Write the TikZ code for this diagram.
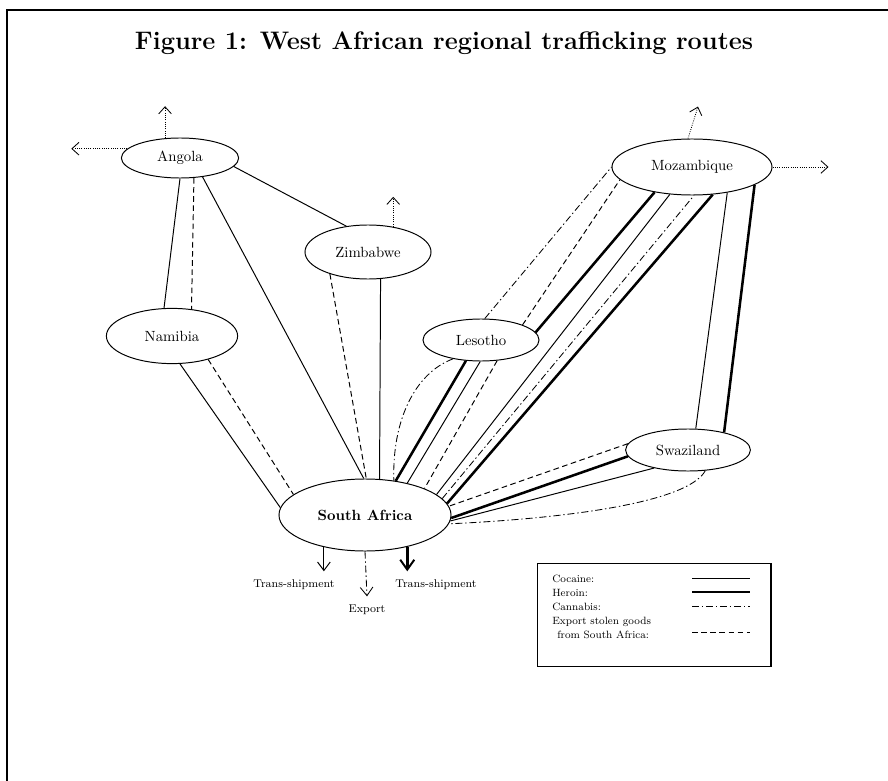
\documentclass[tikz,border=0pt]{standalone}
\usepackage{tikz}
\usetikzlibrary{positioning, shapes.geometric, arrows.meta}

\begin{document}
\begin{tikzpicture}[
        x=0.025cm, y=-0.025cm,
        font=\fontsize{10.5}{12}\selectfont,
        country/.style={
            ellipse, draw=black, line width=0.7pt,
            inner sep=0pt, align=center
        },
        hub/.style={
            ellipse, draw=black, line width=0.7pt,
            inner sep=0pt, font=\fontsize{10.5}{12}\selectfont\bfseries
        },
        cocaine/.style={draw=black, line width=0.7pt},
        heroin/.style={draw=black, line width=1.8pt},
        cannabis/.style={draw=black, line width=0.6pt, dash pattern=on 5pt off 2pt on 1pt off 2pt},
        export/.style={draw=black, line width=0.7pt, dash pattern=on 4pt off 2.5pt},
        outward/.style={draw=black, line width=0.6pt, densely dotted,
            -{Straight Barb[length=5pt, width=9pt]}},
        downtip/.style={-{Straight Barb[length=6pt, width=9pt]}},
        routelabel/.style={inner sep=1pt, font=\fontsize{8}{9}\selectfont},
        legendtxt/.style={anchor=base west, inner sep=0pt, font=\fontsize{7.5}{9}\selectfont}
    ]

    \useasboundingbox (0,0) rectangle (888,781);

    % FRAME AND TITLE
    \draw[line width=1.5pt] (7,781) -- (7,10) -- (888,10);
    \node[font=\fontsize{18}{21}\selectfont\bfseries] (title) at (444,43)
        {Figure 1: West African regional trafficking routes};

    % COUNTRY NODES
    \node[country, minimum width=2.93cm, minimum height=1.0cm]  (ang) at (180,158) {Angola};
    \node[country, minimum width=3.15cm, minimum height=1.35cm] (zim) at (368,252) {Zimbabwe};
    \node[country, minimum width=3.28cm, minimum height=1.38cm] (nam) at (172,336) {Namibia};
    \node[country, minimum width=2.9cm, minimum height=1.05cm]  (les) at (481,340) {Lesotho};
    \node[country, minimum width=4.0cm, minimum height=1.4cm]   (moz) at (692,167) {Mozambique};
    \node[country, minimum width=3.12cm, minimum height=1.05cm] (swa) at (688,450) {Swaziland};
    \node[hub, minimum width=4.3cm, minimum height=1.8cm]       (sa)  at (365,515) {South Africa};

    % ANGOLA
    \draw[cocaine] (ang.-90) -- (nam.106);
    \draw[export]  (ang.-55) -- (nam.54);
    \draw[cocaine] (ang.-40) -- (sa.92);
    \draw[cocaine] (ang.-9)  -- (zim.130);
    \draw[outward] (ang.127) -- ++(0,-32);
    \draw[outward] (ang.170) -- ++(-56,0);

    % ZIMBABWE
    \draw[export]  (zim.210) -- (sa.88);
    \draw[cocaine] (zim.-65) -- (sa.68);
    \draw[outward] (zim.45)  -- ++(0,-30);

    % NAMIBIA
    \draw[cocaine] (nam.-74) -- (sa.175);
    \draw[export]  (nam.-33) -- (sa.164);

    % LESOTHO
    \draw[cannabis] (les.214) .. controls +(-38,14) and +(-2,-60) .. (sa.50);
    \draw[heroin]   (les.234) -- (sa.48);
    \draw[cocaine]  (les.268) -- (sa.37);
    \draw[export]   (les.-52) -- (sa.24);

    % MOZAMBIQUE
    \draw[cannabis] (les.80)  -- (moz.180);
    \draw[export]   (les.20)  -- (moz.190);
    \draw[heroin]   (les.8)   -- (moz.214);
    \draw[cocaine]  (sa.16)   -- (moz.231);
    \draw[cannabis] (sa.12)   -- (moz.274);
    \draw[heroin]   (sa.8)    -- (moz.307);
    \draw[cocaine]  (moz.324) -- (swa.70);
    \draw[heroin]   (moz.344) -- (swa.26);
    \draw[outward]  (moz.98)  -- ++(10,-32);
    \draw[outward]  (moz.east) -- ++(56,0);

    % SWAZILAND
    \draw[export]   (swa.174) -- (sa.6);
    \draw[heroin]   (swa.186) -- (sa.-2);
    \draw[cocaine]  (swa.208) -- (sa.-4);
    \draw[cannabis] (swa.310) .. controls +(-18,33) and +(110,-5) .. (sa.-6);

    % OUT OF SOUTH AFRICA
    \node[routelabel] (ts1) at (294,585) {Trans-shipment};
    \node[routelabel] (exp) at (367,610) {Export};
    \node[routelabel] (ts2) at (436,585) {Trans-shipment};

    \draw[cocaine, downtip]  (sa.218) -- ([yshift=5pt]sa.218 |- ts1.north);
    \draw[cannabis, downtip] (sa.south) -- ([yshift=5pt]exp.north);
    \draw[heroin, -{Straight Barb[length=7pt, width=10pt, line width=1.4pt]}]
        (sa.323) -- ([yshift=5pt]sa.323 |- ts2.north);

    % LEGEND
    \node[draw, line width=0.9pt, anchor=north west, inner sep=0pt,
          minimum width=5.83cm, minimum height=2.575cm] (legend) at (537,563) {};

    \node[legendtxt] (lcoc) at (552,582) {Cocaine:};
    \node[legendtxt] (lher) at (552,596) {Heroin:};
    \node[legendtxt] (lcan) at (552,610) {Cannabis:};
    \node[legendtxt] (lexp) at (552,624) {Export stolen goods};
    \node[legendtxt] (lexq) at (557,638) {from South Africa:};

    \coordinate (kcoc) at (692,578);
    \coordinate (kher) at (692,592);
    \coordinate (kcan) at (692,606);
    \coordinate (kexp) at (692,632);
    \draw[cocaine]  (kcoc) -- ++(58,0);
    \draw[heroin]   (kher) -- ++(58,0);
    \draw[cannabis] (kcan) -- ++(58,0);
    \draw[export]   (kexp) -- ++(58,0);

\end{tikzpicture}
\end{document}
